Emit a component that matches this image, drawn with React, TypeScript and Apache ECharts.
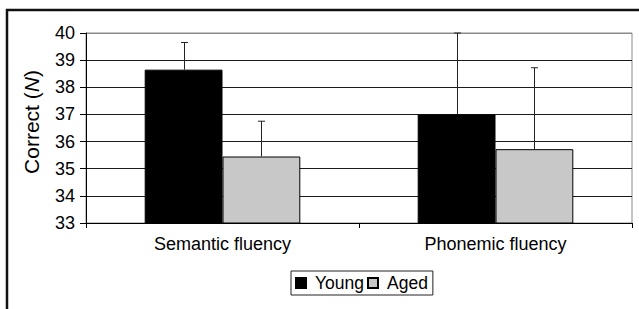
import React, { useEffect, useRef } from "react";
import * as echarts from "echarts";

const categories = ["Semantic fluency", "Phonemic fluency"];
const seriesNames = ["Young", "Aged"];
const youngValues = [38.65, 37.0];
const agedValues = [35.45, 35.72];
const youngErrors = [1.0, 3.0];
const agedErrors = [1.3, 3.0];
const yMin = 33;
const yMax = 40;
const yInterval = 1;

const FONT = "'Liberation Sans', Arial, sans-serif";
const CAT_GAP = 0.43;

function errorSeries(values: number[], errors: number[], side: number) {
  return {
    type: "custom",
    silent: true,
    z: 10,
    data: values.map((v, i) => [i, v, errors[i]]),
    renderItem: (_params: any, api: any) => {
      const cat = api.value(0);
      const val = api.value(1);
      const err = api.value(2);
      const base = api.coord([cat, val]);
      const top = api.coord([cat, val + err]);
      const band = api.size([1, 0])[0];
      const bw = (band * (1 - CAT_GAP)) / 2;
      const x = Math.round(base[0] + (side * bw) / 2) + 0.5;
      const style = { stroke: "#222", lineWidth: 1 };
      return {
        type: "group",
        children: [
          { type: "line", shape: { x1: x, y1: base[1], x2: x, y2: top[1] }, style },
          { type: "line", shape: { x1: x - 3.5, y1: top[1], x2: x + 3.5, y2: top[1] }, style },
        ],
      };
    },
  };
}

export default function App() {
  const ref = useRef<HTMLDivElement>(null);
  useEffect(() => {
    if (!ref.current) return;
    const chart = echarts.init(ref.current, undefined, { renderer: "svg" });
    const gridColors = [];
    for (let v = yMin; v <= yMax; v += yInterval) gridColors.push(v === yMax ? "#8a8a8a" : "#1a1a1a");
    chart.setOption({
      animation: false,
      backgroundColor: "#fff",
      textStyle: { fontFamily: FONT },
      graphic: [
        {
          type: "rect",
          shape: { x: 7, y: 10, width: 800, height: 400 },
          style: { fill: "none", stroke: "#111", lineWidth: 2.5 },
          z: 100,
        },
      ],
      grid: {
        left: 86,
        top: 33,
        right: 7,
        bottom: 86,
        show: true,
        borderColor: "#8a8a8a",
        borderWidth: 1,
        backgroundColor: "transparent",
      },
      legend: {
        data: seriesNames,
        left: 291,
        top: 271,
        orient: "horizontal",
        borderColor: "#222",
        borderWidth: 1,
        padding: [3, 5, 3, 4],
        itemGap: 3,
        itemWidth: 10,
        itemHeight: 10,
        icon: "rect",
        textStyle: { fontFamily: FONT, fontSize: 17.5, color: "#000", padding: [0, 0, 0, 4] },
      },
      xAxis: {
        type: "category",
        data: categories,
        axisLine: { lineStyle: { color: "#000", width: 1 } },
        axisTick: { show: true, length: 5, lineStyle: { color: "#000" } },
        axisLabel: { fontFamily: FONT, fontSize: 18, color: "#000", margin: 12 },
      },
      yAxis: {
        type: "value",
        min: yMin,
        max: yMax,
        interval: yInterval,
        name: "Correct ({i|N})",
        nameLocation: "middle",
        nameGap: 44,
        nameRotate: 90,
        nameTextStyle: {
          fontFamily: FONT,
          fontSize: 21,
          color: "#000",
          padding: [0, 0, 0, 12],
          rich: { i: { fontFamily: FONT, fontSize: 21, fontStyle: "italic", color: "#000" } },
        },
        axisLine: { show: true, lineStyle: { color: "#000", width: 1 } },
        axisTick: { show: true, length: 6, lineStyle: { color: "#000" } },
        axisLabel: { fontFamily: FONT, fontSize: 18, color: "#000", margin: 11 },
        splitLine: { show: true, lineStyle: { color: gridColors, width: 1 } },
      },
      series: [
        {
          name: seriesNames[0],
          type: "bar",
          data: youngValues,
          barGap: "0%",
          barCategoryGap: CAT_GAP * 100 + "%",
          itemStyle: { color: "#000", borderColor: "#000", borderWidth: 1 },
        },
        {
          name: seriesNames[1],
          type: "bar",
          data: agedValues,
          barGap: "0%",
          barCategoryGap: CAT_GAP * 100 + "%",
          itemStyle: { color: "#c8c8c8", borderColor: "#000", borderWidth: 1 },
        },
        errorSeries(youngValues, youngErrors, -1),
        errorSeries(agedValues, agedErrors, 1),
      ],
    });
    return () => chart.dispose();
  }, []);
  return (
    <div
      ref={ref}
      style={{ position: "absolute", left: 0, top: 0, width: 639, height: 309 }}
    />
  );
}
